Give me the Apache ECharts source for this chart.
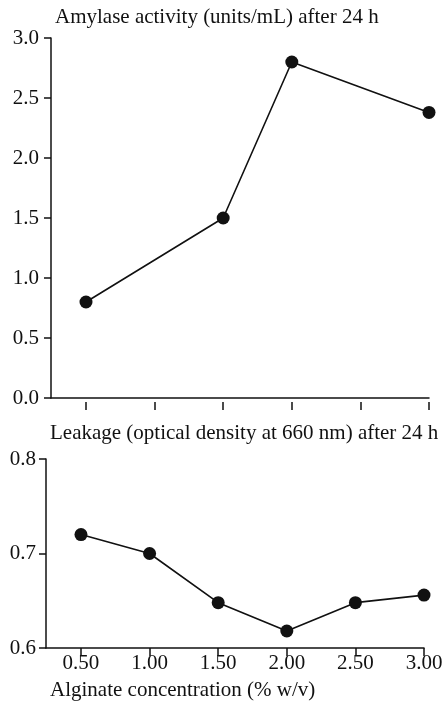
<!DOCTYPE html>
<html>
<head>
<meta charset="utf-8">
<script src="https://cdn.jsdelivr.net/npm/echarts@6/dist/echarts.min.js"></script>
<style>
html,body{margin:0;padding:0;background:#fff;}
#c{width:447px;height:705px;}
</style>
</head>
<body>
<div id="c"></div>
<script>
// Data
const xTicks = [0.5, 1.0, 1.5, 2.0, 2.5, 3.0];
const amylaseConc = [0.5, 1.5, 2.0, 3.0];
const amylaseActivity = [0.8, 1.5, 2.8, 2.38];
const leakageConc = [0.5, 1.0, 1.5, 2.0, 2.5, 3.0];
const leakageOD = [0.72, 0.70, 0.648, 0.618, 0.648, 0.656];
const topTitle = 'Amylase activity (units/mL) after 24 h';
const bottomTitle = 'Leakage (optical density at 660 nm) after 24 h';
const xName = 'Alginate concentration (% w/v)';

const FONT = '"Liberation Serif", "DejaVu Serif", serif';
const FS = 21;
const black = '#111';

const chart = echarts.init(document.getElementById('c'), null, {renderer: 'canvas'});

const xAxisBase = {
  type: 'value', min: 0.245, max: 3.0,
  axisLine: {show: true, lineStyle: {color: black, width: 1.5}},
  splitLine: {show: false},
  axisTick: {show: true, customValues: xTicks, length: 8, lineStyle: {color: black, width: 1.5}},
};

const yAxisBase = {
  type: 'value',
  axisLine: {show: true, lineStyle: {color: black, width: 1.5}},
  splitLine: {show: false},
  axisTick: {show: true, length: 7, lineStyle: {color: black, width: 1.5}},
};

const seriesStyle = {
  type: 'line',
  symbol: 'circle', symbolSize: 13,
  lineStyle: {color: black, width: 1.6},
  itemStyle: {color: black},
  animation: false,
};

chart.setOption({
  animation: false,
  backgroundColor: '#fff',
  title: [
    {text: topTitle, left: 50, top: 2, textStyle: {fontFamily: FONT, fontSize: FS, fontWeight: 'normal', color: black}},
    {text: bottomTitle, left: 45, top: 418, textStyle: {fontFamily: FONT, fontSize: FS, fontWeight: 'normal', color: black}},
    {text: xName, left: 45, top: 675, textStyle: {fontFamily: FONT, fontSize: FS, fontWeight: 'normal', color: black}},
  ],
  grid: [
    {left: 51, right: 18, top: 38, height: 360},
    {left: 46, right: 23, top: 459, height: 189},
  ],
  xAxis: [
    Object.assign({}, xAxisBase, {gridIndex: 0,
      axisTick: {show: false},
      axisLabel: {show: false}}),
    Object.assign({}, xAxisBase, {gridIndex: 1,
      axisLabel: {show: true, customValues: xTicks, margin: 5,
        formatter: v => v.toFixed(2),
        fontFamily: FONT, fontSize: FS, color: black}}),
    Object.assign({}, xAxisBase, {gridIndex: 0, position: 'bottom', offset: 4,
      axisLine: {show: false},
      axisLabel: {show: false}}),
  ],
  yAxis: [
    Object.assign({}, yAxisBase, {gridIndex: 0, min: 0, max: 3, interval: 0.5,
      axisLabel: {formatter: v => v.toFixed(1), fontFamily: FONT, fontSize: FS, color: black, margin: 12}}),
    Object.assign({}, yAxisBase, {gridIndex: 1, min: 0.6, max: 0.8, interval: 0.1,
      axisLabel: {formatter: v => v.toFixed(1), fontFamily: FONT, fontSize: FS, color: black, margin: 10}}),
  ],
  series: [
    Object.assign({}, seriesStyle, {xAxisIndex: 0, yAxisIndex: 0,
      data: amylaseConc.map((x, i) => [x, amylaseActivity[i]])}),
    Object.assign({}, seriesStyle, {xAxisIndex: 1, yAxisIndex: 1,
      data: leakageConc.map((x, i) => [x, leakageOD[i]])}),
  ],
});
</script>
</body>
</html>
